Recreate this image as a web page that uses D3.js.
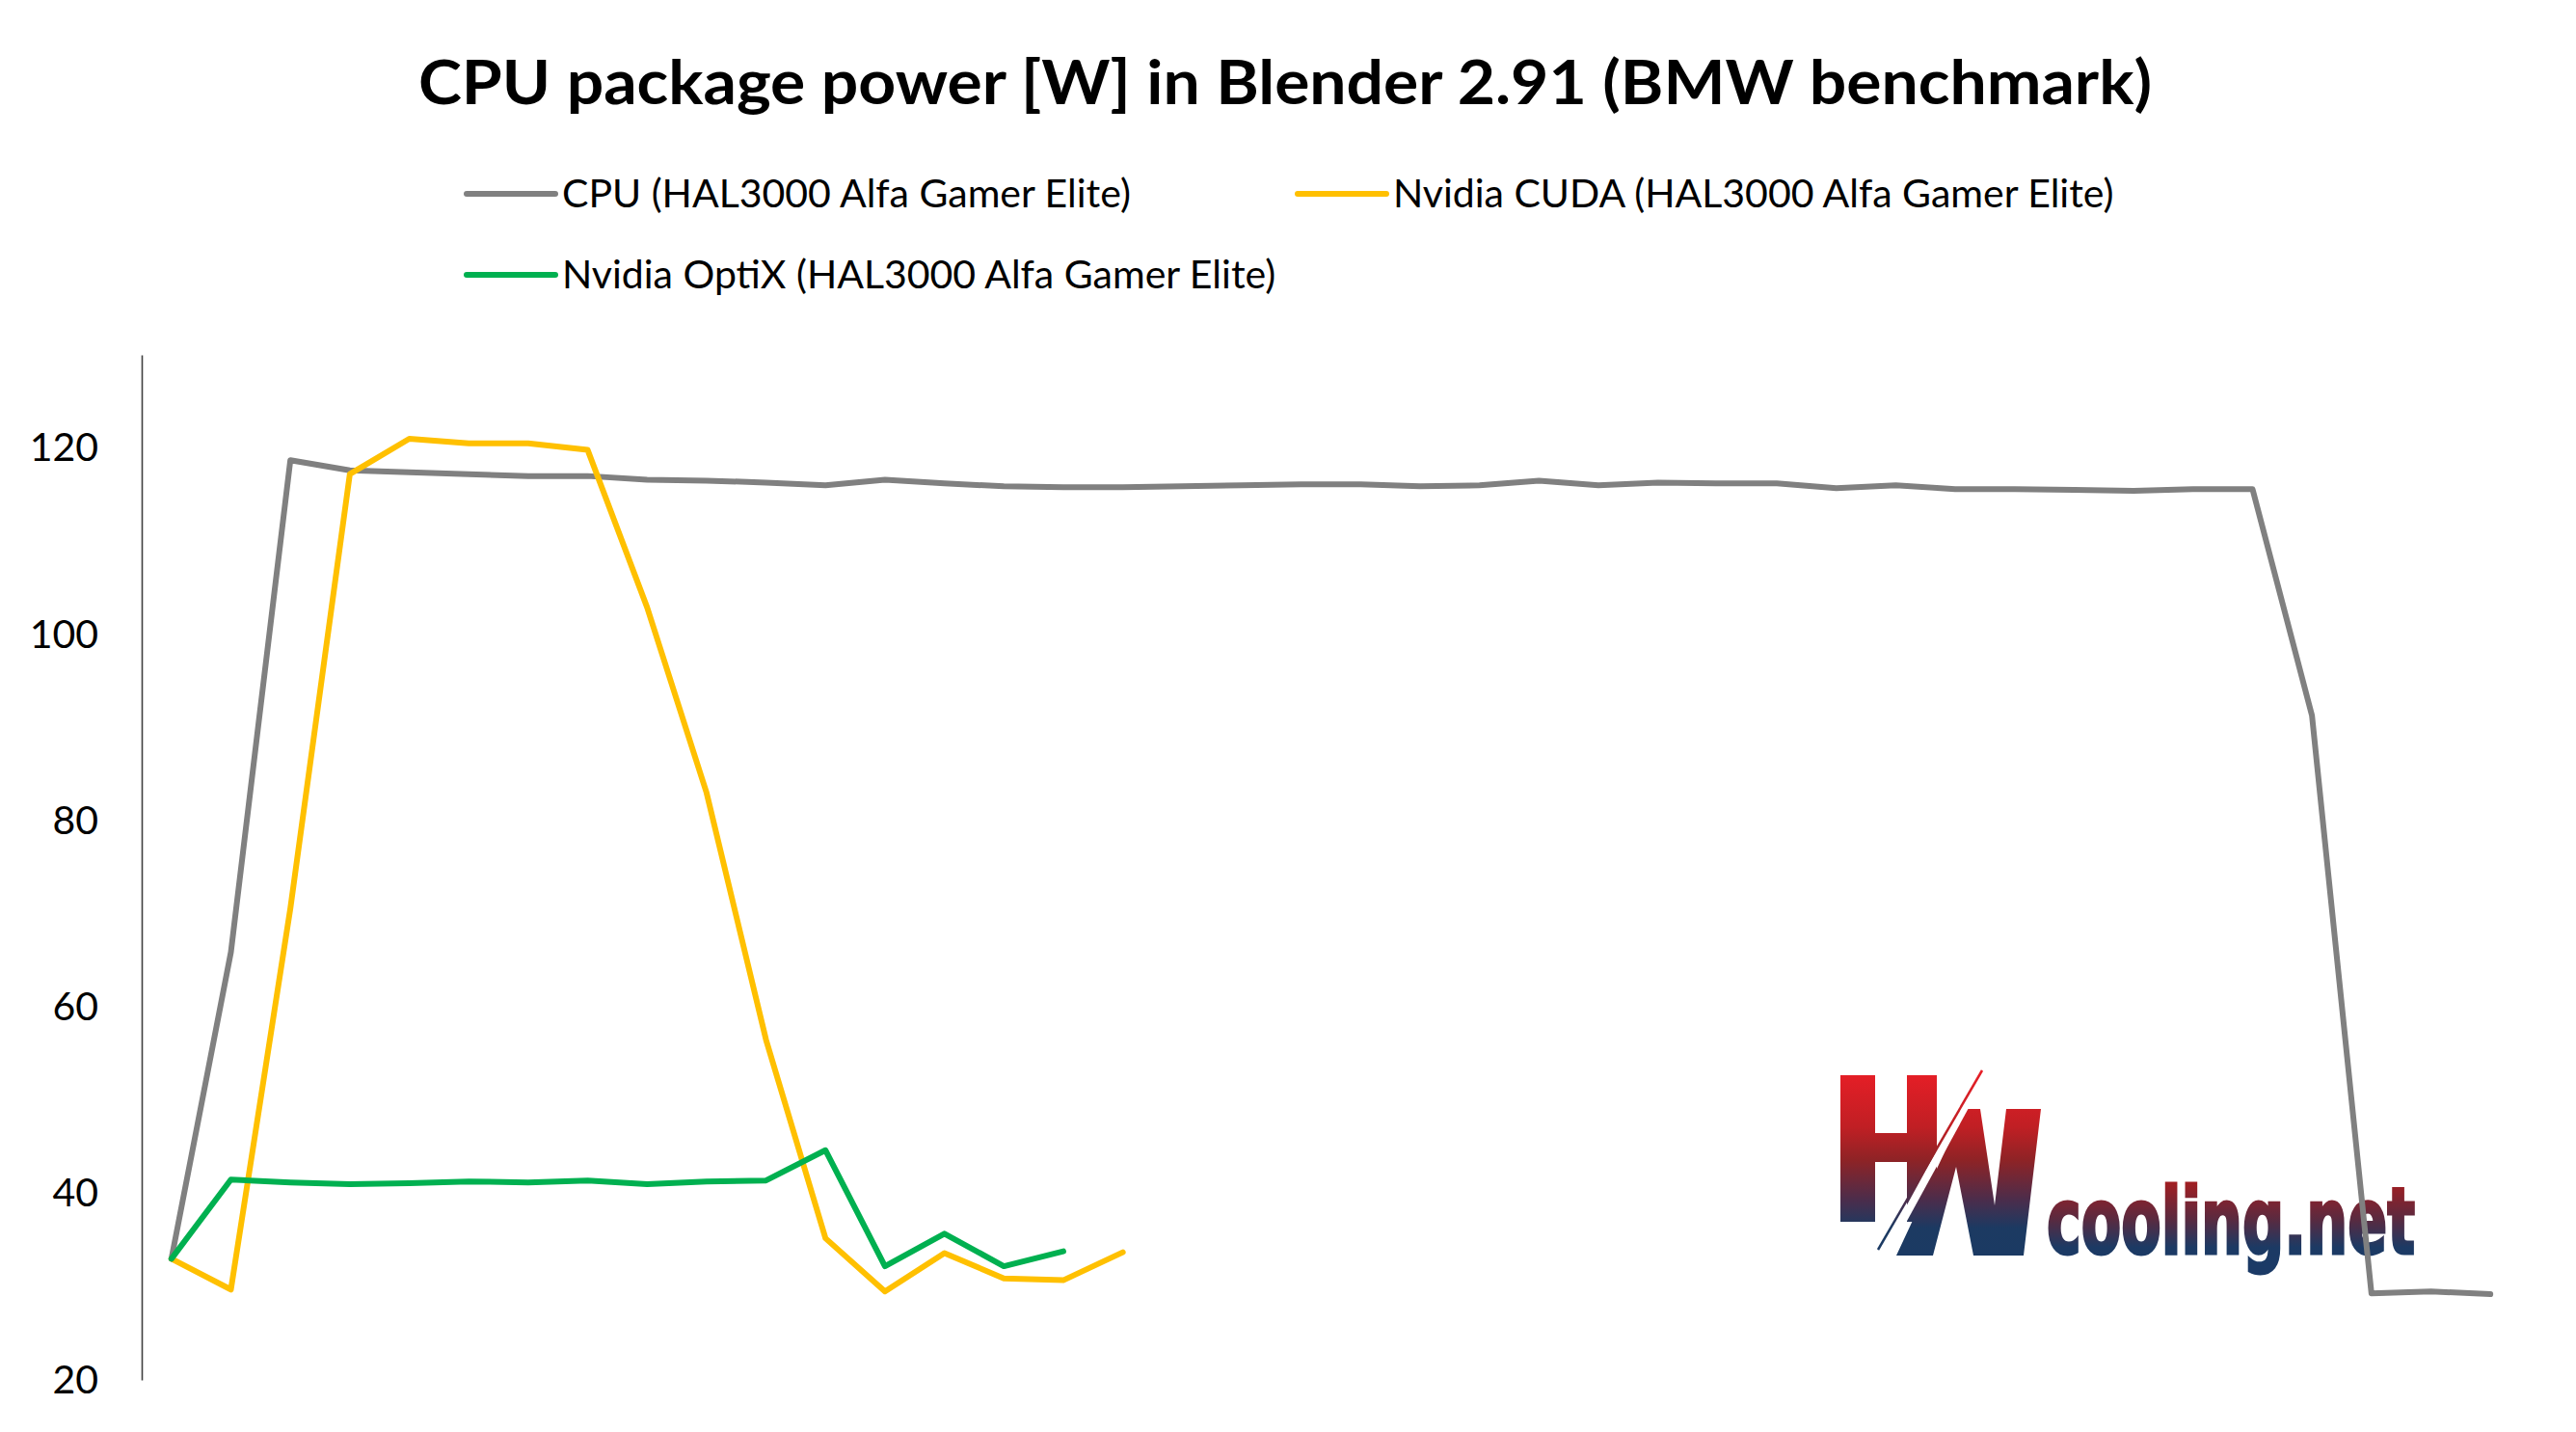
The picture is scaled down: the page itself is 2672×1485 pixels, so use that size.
<!DOCTYPE html>
<html>
<head>
<meta charset="utf-8">
<script src="https://cdn.jsdelivr.net/npm/d3@7"></script>
<style>
  body { margin: 0; background: #fff; }
  svg { display: block; font-family: Lato, "Open Sans", sans-serif; }
</style>
</head>
<body>
<svg id="chart"></svg>
<script>
// chart data
const categories = d3.range(1, 41);
const cpuValues = [33.0, 65.9, 118.7, 117.6, 117.4, 117.2, 117.0, 117.0, 116.6, 116.5,
                   116.3, 116.0, 116.6, 116.2, 115.9, 115.8, 115.8, 115.9, 116.0, 116.1,
                   116.1, 115.9, 116.0, 116.5, 116.0, 116.3, 116.2, 116.2, 115.7, 116.0,
                   115.6, 115.6, 115.5, 115.4, 115.6, 115.6, 91.3, 29.3, 29.5, 29.2];
const cudaValues = [33.0, 29.7, 70.6, 117.2, 121.0, 120.5, 120.5, 119.8, 102.9, 83.0,
                    56.5, 35.2, 29.5, 33.6, 30.9, 30.7, 33.7];
const optixValues = [33.0, 41.5, 41.2, 41.0, 41.1, 41.3, 41.2, 41.4, 41.0, 41.3,
                     41.4, 44.65, 32.2, 35.7, 32.2, 33.8];
const seriesNames = ["CPU (HAL3000 Alfa Gamer Elite)",
                     "Nvidia CUDA (HAL3000 Alfa Gamer Elite)",
                     "Nvidia OptiX (HAL3000 Alfa Gamer Elite)"];
const seriesColors = ["#808080", "#FFC000", "#00B050"];
const yTicks = [20, 40, 60, 80, 100, 120];
const titleText = "CPU package power [W] in Blender 2.91 (BMW benchmark)";

const width = 2672;
const height = 1485;

const svg = d3.select("#chart")
              .attr("width", width)
              .attr("height", height);

svg.append("rect").attr("width", width).attr("height", height).attr("fill", "#fff");

const x = d3.scalePoint()
            .domain(categories)
            .range([147, 2614])
            .padding(0.5);

const y = d3.scaleLinear()
            .domain([20, 130])
            .range([1431, 368]);

// title
svg.append("text")
   .attr("x", 1333)
   .attr("y", 108)
   .attr("text-anchor", "middle")
   .style("font-size", "64px")
   .style("font-weight", "bold")
   .attr("fill", "#000")
   .attr("textLength", 1798)
   .attr("lengthAdjust", "spacingAndGlyphs")
   .text(titleText);

// legend
const legendPos = [[484, 201], [1346, 201], [484, 285]];
const legend = svg.append("g").attr("class", "legend");
seriesNames.forEach((name, i) => {
  const [lx, ly] = legendPos[i];
  legend.append("line")
        .attr("x1", lx).attr("x2", lx + 92)
        .attr("y1", ly).attr("y2", ly)
        .attr("stroke", seriesColors[i])
        .attr("stroke-width", 6)
        .attr("stroke-linecap", "round");
  legend.append("text")
        .attr("x", lx + 99)
        .attr("y", ly + 14)
        .style("font-size", "41px")
        .attr("fill", "#000")
        .text(name);
});

// y axis
const yAxis = d3.axisLeft(y)
                .tickValues(yTicks)
                .tickSize(0)
                .tickSizeOuter(0)
                .tickPadding(45);

const axisG = svg.append("g")
   .attr("transform", "translate(147,0)")
   .call(yAxis);
axisG.select(".domain").attr("stroke", "#404040").attr("stroke-width", 1.6);
axisG.selectAll(".tick text")
     .style("font-family", "Lato, 'Open Sans', sans-serif")
     .style("font-size", "41px")
     .attr("fill", "#000");

// logo (watermark)
const defs = svg.append("defs");
const grad = defs.append("linearGradient")
                 .attr("id", "hwGrad")
                 .attr("gradientUnits", "userSpaceOnUse")
                 .attr("x1", 0).attr("x2", 0)
                 .attr("y1", 1112).attr("y2", 1302);
[["0%", "#e61e26"], ["30%", "#c01f24"], ["48%", "#8e2326"], ["70%", "#4a2d4c"], ["85%", "#1c3a62"], ["100%", "#1b3a63"]]
  .forEach(([o, c]) => grad.append("stop").attr("offset", o).attr("stop-color", c));
const grad2 = defs.append("linearGradient")
                  .attr("id", "netGrad")
                  .attr("gradientUnits", "userSpaceOnUse")
                  .attr("x1", 0).attr("x2", 0)
                  .attr("y1", 1227).attr("y2", 1310);
[["0%", "#a01e22"], ["45%", "#5a2a40"], ["80%", "#1c3a64"], ["100%", "#1b3a66"]]
  .forEach(([o, c]) => grad2.append("stop").attr("offset", o).attr("stop-color", c));

const logo = svg.append("g").attr("class", "logo");
logo.append("path")
    .attr("fill", "url(#hwGrad)")
    .attr("d", "M1909,1115H1945V1175H1978V1115H2009V1267H1978V1205H1945V1267H1909Z");
logo.append("path")
    .attr("fill", "url(#hwGrad)")
    .attr("d", "M1967,1302L2005,1302L2029,1210L2047,1302L2099,1302L2117,1150L2081,1150L2069,1250L2054,1150L2038,1150Z");
logo.append("line")
    .attr("x1", 2062).attr("y1", 1104).attr("x2", 1955).attr("y2", 1300)
    .attr("stroke", "#fff").attr("stroke-width", 8);
logo.append("line")
    .attr("x1", 2056).attr("y1", 1110).attr("x2", 1948).attr("y2", 1296)
    .attr("stroke", "url(#hwGrad)").attr("stroke-width", 2.5);
logo.append("text")
    .attr("x", 2123)
    .attr("y", 1300)
    .style("font-family", "'DejaVu Sans Condensed', 'DejaVu Sans', sans-serif")
    .style("font-weight", "bold")
    .style("font-size", "96px")
    .attr("textLength", 382)
    .attr("lengthAdjust", "spacingAndGlyphs")
    .attr("fill", "url(#netGrad)")
    .attr("stroke", "url(#netGrad)")
    .attr("stroke-width", 3)
    .text("cooling.net");

// series lines
const series = [cpuValues, cudaValues, optixValues];
const line = d3.line()
               .x((d, i) => x(categories[i]))
               .y(d => y(d));

svg.append("g").attr("class", "series")
   .selectAll("path")
   .data(series)
   .enter()
   .append("path")
   .attr("d", d => line(d))
   .attr("fill", "none")
   .attr("stroke", (d, i) => seriesColors[i])
   .attr("stroke-width", 6)
   .attr("stroke-linejoin", "round")
   .attr("stroke-linecap", "round");
</script>
</body>
</html>
